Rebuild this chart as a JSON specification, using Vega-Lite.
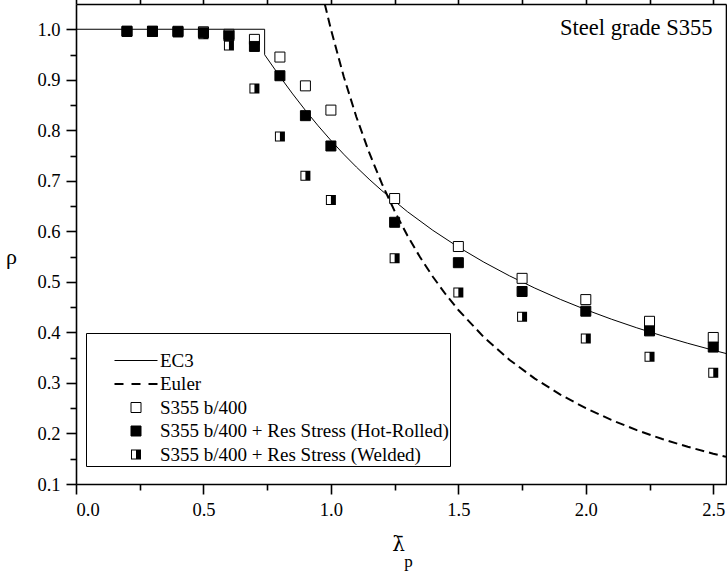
{
  "$schema": "https://vega.github.io/schema/vega-lite/v6.json",
  "width": 650,
  "height": 480,
  "autosize": {"type": "none"},
  "padding": {"left": 76, "top": 4, "right": 1, "bottom": 87},
  "background": "white",
  "config": {
    "view": {"stroke": null},
    "font": "Liberation Serif",
    "axis": {
      "grid": false,
      "domainColor": "black",
      "domainWidth": 1.6,
      "tickColor": "black",
      "tickWidth": 1.6,
      "labelColor": "black",
      "labelFont": "Liberation Serif",
      "labelFontSize": 18.5,
      "labelPadding": 6,
      "titleFont": "Liberation Serif",
      "titleFontWeight": "normal",
      "titleColor": "black"
    },
    "legend": {
      "orient": "none",
      "legendX": 10,
      "legendY": 329,
      "strokeColor": "black",
      "fillColor": "white",
      "padding": 1,
      "symbolOffset": 39.5,
      "labelOffset": 14.5,
      "labelFont": "Liberation Serif",
      "labelFontSize": 19,
      "labelColor": "black",
      "labelLimit": 500,
      "rowPadding": 3.5,
      "symbolSize": 100,
      "symbolStrokeWidth": 1,
      "titleFontSize": 10,
      "titlePadding": 7
    }
  },
  "datasets": {
    "ec3": [
      {"i": 0, "lam": 0, "rho": 1},
      {"i": 1, "lam": 0.74, "rho": 1},
      {"i": 2, "lam": 0.74, "rho": 0.9496},
      {"i": 3, "lam": 0.8, "rho": 0.9063},
      {"i": 4, "lam": 0.85, "rho": 0.872},
      {"i": 5, "lam": 0.9, "rho": 0.8395},
      {"i": 6, "lam": 0.95, "rho": 0.8089},
      {"i": 7, "lam": 1.0, "rho": 0.78},
      {"i": 8, "lam": 1.05, "rho": 0.7528},
      {"i": 9, "lam": 1.1, "rho": 0.7273},
      {"i": 10, "lam": 1.15, "rho": 0.7032},
      {"i": 11, "lam": 1.2, "rho": 0.6806},
      {"i": 12, "lam": 1.3, "rho": 0.6391},
      {"i": 13, "lam": 1.4, "rho": 0.602},
      {"i": 14, "lam": 1.5, "rho": 0.5689},
      {"i": 15, "lam": 1.6, "rho": 0.5391},
      {"i": 16, "lam": 1.7, "rho": 0.5121},
      {"i": 17, "lam": 1.8, "rho": 0.4877},
      {"i": 18, "lam": 1.9, "rho": 0.4654},
      {"i": 19, "lam": 2.0, "rho": 0.445},
      {"i": 20, "lam": 2.1, "rho": 0.4263},
      {"i": 21, "lam": 2.2, "rho": 0.4091},
      {"i": 22, "lam": 2.3, "rho": 0.3932},
      {"i": 23, "lam": 2.4, "rho": 0.3785},
      {"i": 24, "lam": 2.5, "rho": 0.3648},
      {"i": 25, "lam": 2.55, "rho": 0.3583}
    ],
    "euler": [
      {"lam": 0.976, "rho": 1.0498},
      {"lam": 1.0, "rho": 1.0},
      {"lam": 1.05, "rho": 0.907},
      {"lam": 1.1, "rho": 0.8264},
      {"lam": 1.15, "rho": 0.7561},
      {"lam": 1.2, "rho": 0.6944},
      {"lam": 1.25, "rho": 0.64},
      {"lam": 1.3, "rho": 0.5917},
      {"lam": 1.35, "rho": 0.5487},
      {"lam": 1.4, "rho": 0.5102},
      {"lam": 1.45, "rho": 0.4756},
      {"lam": 1.5, "rho": 0.4444},
      {"lam": 1.6, "rho": 0.3906},
      {"lam": 1.7, "rho": 0.346},
      {"lam": 1.8, "rho": 0.3086},
      {"lam": 1.9, "rho": 0.277},
      {"lam": 2.0, "rho": 0.25},
      {"lam": 2.1, "rho": 0.2268},
      {"lam": 2.2, "rho": 0.2066},
      {"lam": 2.3, "rho": 0.189},
      {"lam": 2.4, "rho": 0.1736},
      {"lam": 2.5, "rho": 0.16},
      {"lam": 2.55, "rho": 0.1538}
    ],
    "tests": [
      {"series": "S355 b/400", "lam": 0.2, "rho": 0.996},
      {"series": "S355 b/400", "lam": 0.3, "rho": 0.996},
      {"series": "S355 b/400", "lam": 0.4, "rho": 0.996},
      {"series": "S355 b/400", "lam": 0.5, "rho": 0.995},
      {"series": "S355 b/400", "lam": 0.6, "rho": 0.99},
      {"series": "S355 b/400", "lam": 0.7, "rho": 0.98},
      {"series": "S355 b/400", "lam": 0.8, "rho": 0.945},
      {"series": "S355 b/400", "lam": 0.9, "rho": 0.888},
      {"series": "S355 b/400", "lam": 1.0, "rho": 0.84},
      {"series": "S355 b/400", "lam": 1.25, "rho": 0.665},
      {"series": "S355 b/400", "lam": 1.5, "rho": 0.57},
      {"series": "S355 b/400", "lam": 1.75, "rho": 0.507},
      {"series": "S355 b/400", "lam": 2.0, "rho": 0.465},
      {"series": "S355 b/400", "lam": 2.25, "rho": 0.422},
      {"series": "S355 b/400", "lam": 2.5, "rho": 0.39},
      {"series": "S355 b/400 + Res Stress (Hot-Rolled)", "lam": 0.2, "rho": 0.996},
      {"series": "S355 b/400 + Res Stress (Hot-Rolled)", "lam": 0.3, "rho": 0.996},
      {"series": "S355 b/400 + Res Stress (Hot-Rolled)", "lam": 0.4, "rho": 0.995},
      {"series": "S355 b/400 + Res Stress (Hot-Rolled)", "lam": 0.5, "rho": 0.993},
      {"series": "S355 b/400 + Res Stress (Hot-Rolled)", "lam": 0.6, "rho": 0.987},
      {"series": "S355 b/400 + Res Stress (Hot-Rolled)", "lam": 0.7, "rho": 0.966},
      {"series": "S355 b/400 + Res Stress (Hot-Rolled)", "lam": 0.8, "rho": 0.908},
      {"series": "S355 b/400 + Res Stress (Hot-Rolled)", "lam": 0.9, "rho": 0.829},
      {"series": "S355 b/400 + Res Stress (Hot-Rolled)", "lam": 1.0, "rho": 0.769},
      {"series": "S355 b/400 + Res Stress (Hot-Rolled)", "lam": 1.25, "rho": 0.618},
      {"series": "S355 b/400 + Res Stress (Hot-Rolled)", "lam": 1.5, "rho": 0.538},
      {"series": "S355 b/400 + Res Stress (Hot-Rolled)", "lam": 1.75, "rho": 0.481},
      {"series": "S355 b/400 + Res Stress (Hot-Rolled)", "lam": 2.0, "rho": 0.442},
      {"series": "S355 b/400 + Res Stress (Hot-Rolled)", "lam": 2.25, "rho": 0.403},
      {"series": "S355 b/400 + Res Stress (Hot-Rolled)", "lam": 2.5, "rho": 0.371},
      {"series": "S355 b/400 + Res Stress (Welded)", "lam": 0.2, "rho": 0.995},
      {"series": "S355 b/400 + Res Stress (Welded)", "lam": 0.3, "rho": 0.995},
      {"series": "S355 b/400 + Res Stress (Welded)", "lam": 0.4, "rho": 0.994},
      {"series": "S355 b/400 + Res Stress (Welded)", "lam": 0.5, "rho": 0.99},
      {"series": "S355 b/400 + Res Stress (Welded)", "lam": 0.6, "rho": 0.968},
      {"series": "S355 b/400 + Res Stress (Welded)", "lam": 0.7, "rho": 0.883},
      {"series": "S355 b/400 + Res Stress (Welded)", "lam": 0.8, "rho": 0.788},
      {"series": "S355 b/400 + Res Stress (Welded)", "lam": 0.9, "rho": 0.71},
      {"series": "S355 b/400 + Res Stress (Welded)", "lam": 1.0, "rho": 0.662},
      {"series": "S355 b/400 + Res Stress (Welded)", "lam": 1.25, "rho": 0.547},
      {"series": "S355 b/400 + Res Stress (Welded)", "lam": 1.5, "rho": 0.479},
      {"series": "S355 b/400 + Res Stress (Welded)", "lam": 1.75, "rho": 0.431},
      {"series": "S355 b/400 + Res Stress (Welded)", "lam": 2.0, "rho": 0.388},
      {"series": "S355 b/400 + Res Stress (Welded)", "lam": 2.25, "rho": 0.352},
      {"series": "S355 b/400 + Res Stress (Welded)", "lam": 2.5, "rho": 0.32}
    ]
  },
  "resolve": {"axis": {"x": "independent", "y": "independent"}},
  "layer": [
    {
      "data": {"name": "ec3"},
      "mark": {"type": "line", "color": "black", "strokeWidth": 1, "clip": true},
      "encoding": {
        "x": {
          "field": "lam", "type": "quantitative",
          "scale": {"domain": [0, 2.55], "nice": false, "zero": false},
          "axis": {
            "orient": "bottom",
            "title": "λ̄",
            "values": [0, 0.5, 1, 1.5, 2, 2.5],
            "format": ".1f",
            "labelFont": "Liberation Serif",
            "labelFontSize": 18.5,
            "tickSize": 10,
            "titleFont": "DejaVu Serif",
            "titleFontSize": 20,
            "titleX": 322,
            "titleY": 66,
            "titleAlign": "center",
            "titleBaseline": "alphabetic"
          }
        },
        "y": {
          "field": "rho", "type": "quantitative",
          "scale": {"domain": [0.1, 1.05], "nice": false, "zero": false},
          "axis": {
            "orient": "left",
            "title": "ρ",
            "values": [0.1, 0.2, 0.3, 0.4, 0.5, 0.6, 0.7, 0.8, 0.9, 1.0],
            "format": ".1f",
            "labelFont": "Liberation Serif",
            "labelFontSize": 18.5,
            "tickSize": 10,
            "titleAngle": 0,
            "titleFontSize": 22,
            "titleX": -65,
            "titleY": 259,
            "titleAlign": "center",
            "titleBaseline": "alphabetic"
          }
        },
        "order": {"field": "i", "type": "quantitative"}
      }
    },
    {
      "data": {"name": "euler"},
      "mark": {"type": "line", "color": "black", "strokeWidth": 2, "strokeDash": [9, 5], "clip": true},
      "encoding": {
        "x": {
          "field": "lam", "type": "quantitative",
          "axis": {
            "orient": "top", "title": null, "labels": false,
            "values": [0, 0.25, 0.5, 0.75, 1, 1.25, 1.5, 1.75, 2, 2.25, 2.5],
            "tickSize": 6
          }
        },
        "y": {
          "field": "rho", "type": "quantitative",
          "axis": {
            "orient": "right", "labels": false,
            "values": [0.1, 0.15, 0.2, 0.25, 0.3, 0.35, 0.4, 0.45, 0.5, 0.55, 0.6, 0.65, 0.7, 0.75, 0.8, 0.85, 0.9, 0.95, 1.0],
            "tickSize": 6,
            "title": "p",
            "titleAngle": 0,
            "titleFontSize": 17,
            "titleX": -318,
            "titleY": 562,
            "titleAlign": "center",
            "titleBaseline": "alphabetic"
          }
        }
      }
    },
    {
      "data": {"name": "tests"},
      "mark": {"type": "point", "size": 100, "strokeWidth": 1, "opacity": 1},
      "encoding": {
        "x": {
          "field": "lam", "type": "quantitative",
          "axis": {
            "orient": "bottom", "title": null, "labels": false, "domain": false,
            "values": [0.25, 0.75, 1.25, 1.75, 2.25],
            "tickSize": 6
          }
        },
        "y": {
          "field": "rho", "type": "quantitative",
          "axis": {
            "orient": "left", "title": null, "labels": false, "domain": false,
            "values": [0.15, 0.25, 0.35, 0.45, 0.55, 0.65, 0.75, 0.85, 0.95],
            "tickSize": 6
          }
        },
        "shape": {
          "field": "series", "type": "nominal", "title": " ",
          "legend": {"labelExpr": "datum.label + '\u00a0\u00a0\u00a0'"},
          "scale": {
            "domain": ["EC3", "Euler", "S355 b/400", "S355 b/400 + Res Stress (Hot-Rolled)", "S355 b/400 + Res Stress (Welded)"],
            "range": [
              "M-4.3,-0.1H4.3V0.1H-4.3Z",
              "M-4.3,-0.2H-2.5V0.2H-4.3ZM-0.9,-0.2H0.9V0.2H-0.9ZM2.5,-0.2H4.3V0.2H2.5Z",
              "square",
              "square",
              "M-1,-1H1V1H-1ZM-0.8,-0.8V0.8H0V-0.8Z"
            ]
          }
        },
        "fill": {
          "field": "series", "type": "nominal", "title": " ",
          "legend": {"labelExpr": "datum.label + '\u00a0\u00a0\u00a0'"},
          "scale": {
            "domain": ["EC3", "Euler", "S355 b/400", "S355 b/400 + Res Stress (Hot-Rolled)", "S355 b/400 + Res Stress (Welded)"],
            "range": ["black", "black", "white", "black", "black"]
          }
        },
        "stroke": {
          "field": "series", "type": "nominal", "title": " ",
          "legend": {"labelExpr": "datum.label + '\u00a0\u00a0\u00a0'"},
          "scale": {
            "domain": ["EC3", "Euler", "S355 b/400", "S355 b/400 + Res Stress (Hot-Rolled)", "S355 b/400 + Res Stress (Welded)"],
            "range": ["transparent", "transparent", "black", "black", "transparent"]
          }
        }
      }
    },
    {
      "data": {"values": [{}]},
      "mark": {"type": "text", "text": "Steel grade S355", "align": "right", "baseline": "alphabetic", "fontSize": 22.5, "font": "Liberation Serif", "color": "black"},
      "encoding": {
        "x": {"datum": 2.497, "type": "quantitative", "axis": null},
        "y": {"datum": 0.989, "type": "quantitative", "axis": null}
      }
    }
  ]
}
